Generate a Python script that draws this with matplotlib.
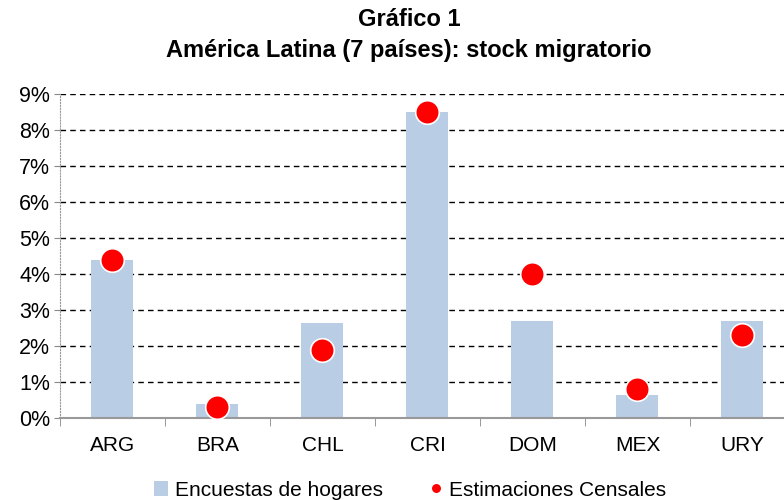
import numpy as np
import matplotlib.pyplot as plt
from matplotlib.ticker import FuncFormatter

plt.rcParams['font.family'] = ['Liberation Sans', 'DejaVu Sans']

paises = ['ARG', 'BRA', 'CHL', 'CRI', 'DOM', 'MEX', 'URY']
encuestas = [4.4, 0.4, 2.65, 8.5, 2.7, 0.65, 2.7]
censales = [4.4, 0.3, 1.9, 8.5, 4.0, 0.8, 2.3]

fig = plt.figure(figsize=(7.84, 5.0), dpi=100)
# plot area runs past the right edge, as in the original
ax = fig.add_axes([60 / 784, 1 - 418 / 500, 735 / 784, 324 / 500])

x = np.arange(len(paises))
barras = ax.bar(x, encuestas, width=0.4, color='#b9cde5', zorder=2,
                label='Encuestas de hogares')
puntos, = ax.plot(x, censales, 'o', color='#ff0000', markersize=17,
                  markeredgecolor='white', markeredgewidth=1.2, zorder=3,
                  label='Estimaciones Censales')

ax.set_xlim(-0.5, len(paises) - 0.5)
ax.set_ylim(0, 9)
ax.set_yticks(np.arange(0, 10, 1))
ax.yaxis.set_major_formatter(FuncFormatter(lambda v, p: f'{v:.0f}%'))
ax.yaxis.grid(True, linestyle=(0, (4, 3)), color='black', linewidth=1, zorder=1)

ax.set_xticks(x)
ax.set_xticklabels(paises)
ax.set_xticks(np.arange(-0.5, len(paises), 1), minor=True)
ax.tick_params(axis='x', which='major', length=0, pad=13, labelsize=15)
ax.tick_params(axis='x', which='minor', length=6, color='#888888', direction='out')
ax.tick_params(axis='y', length=4, color='#888888', labelsize=15.5, pad=3)

for s in ['top', 'right']:
    ax.spines[s].set_visible(False)
ax.spines['bottom'].set_color('#999999')
ax.spines['bottom'].set_linewidth(1.5)
ax.spines['left'].set_color('#999999')
ax.spines['left'].set_linestyle(':')

fig.text(409 / 784, 1 - 20 / 500, 'Gráfico 1', ha='center', va='center',
         fontsize=17, fontweight='bold')
fig.text(409 / 784, 1 - 50 / 500, 'América Latina (7 países): stock migratorio',
         ha='center', va='center', fontsize=17, fontweight='bold')

fig.legend([barras, puntos], ['Encuestas de hogares', 'Estimaciones Censales'],
           loc='center', bbox_to_anchor=(410 / 784, 1 - 490 / 500), ncol=2,
           frameon=False, fontsize=15, handlelength=0.7, handletextpad=0.3,
           columnspacing=2.2, markerscale=0.45)

fig.savefig('out.png', dpi=100)
